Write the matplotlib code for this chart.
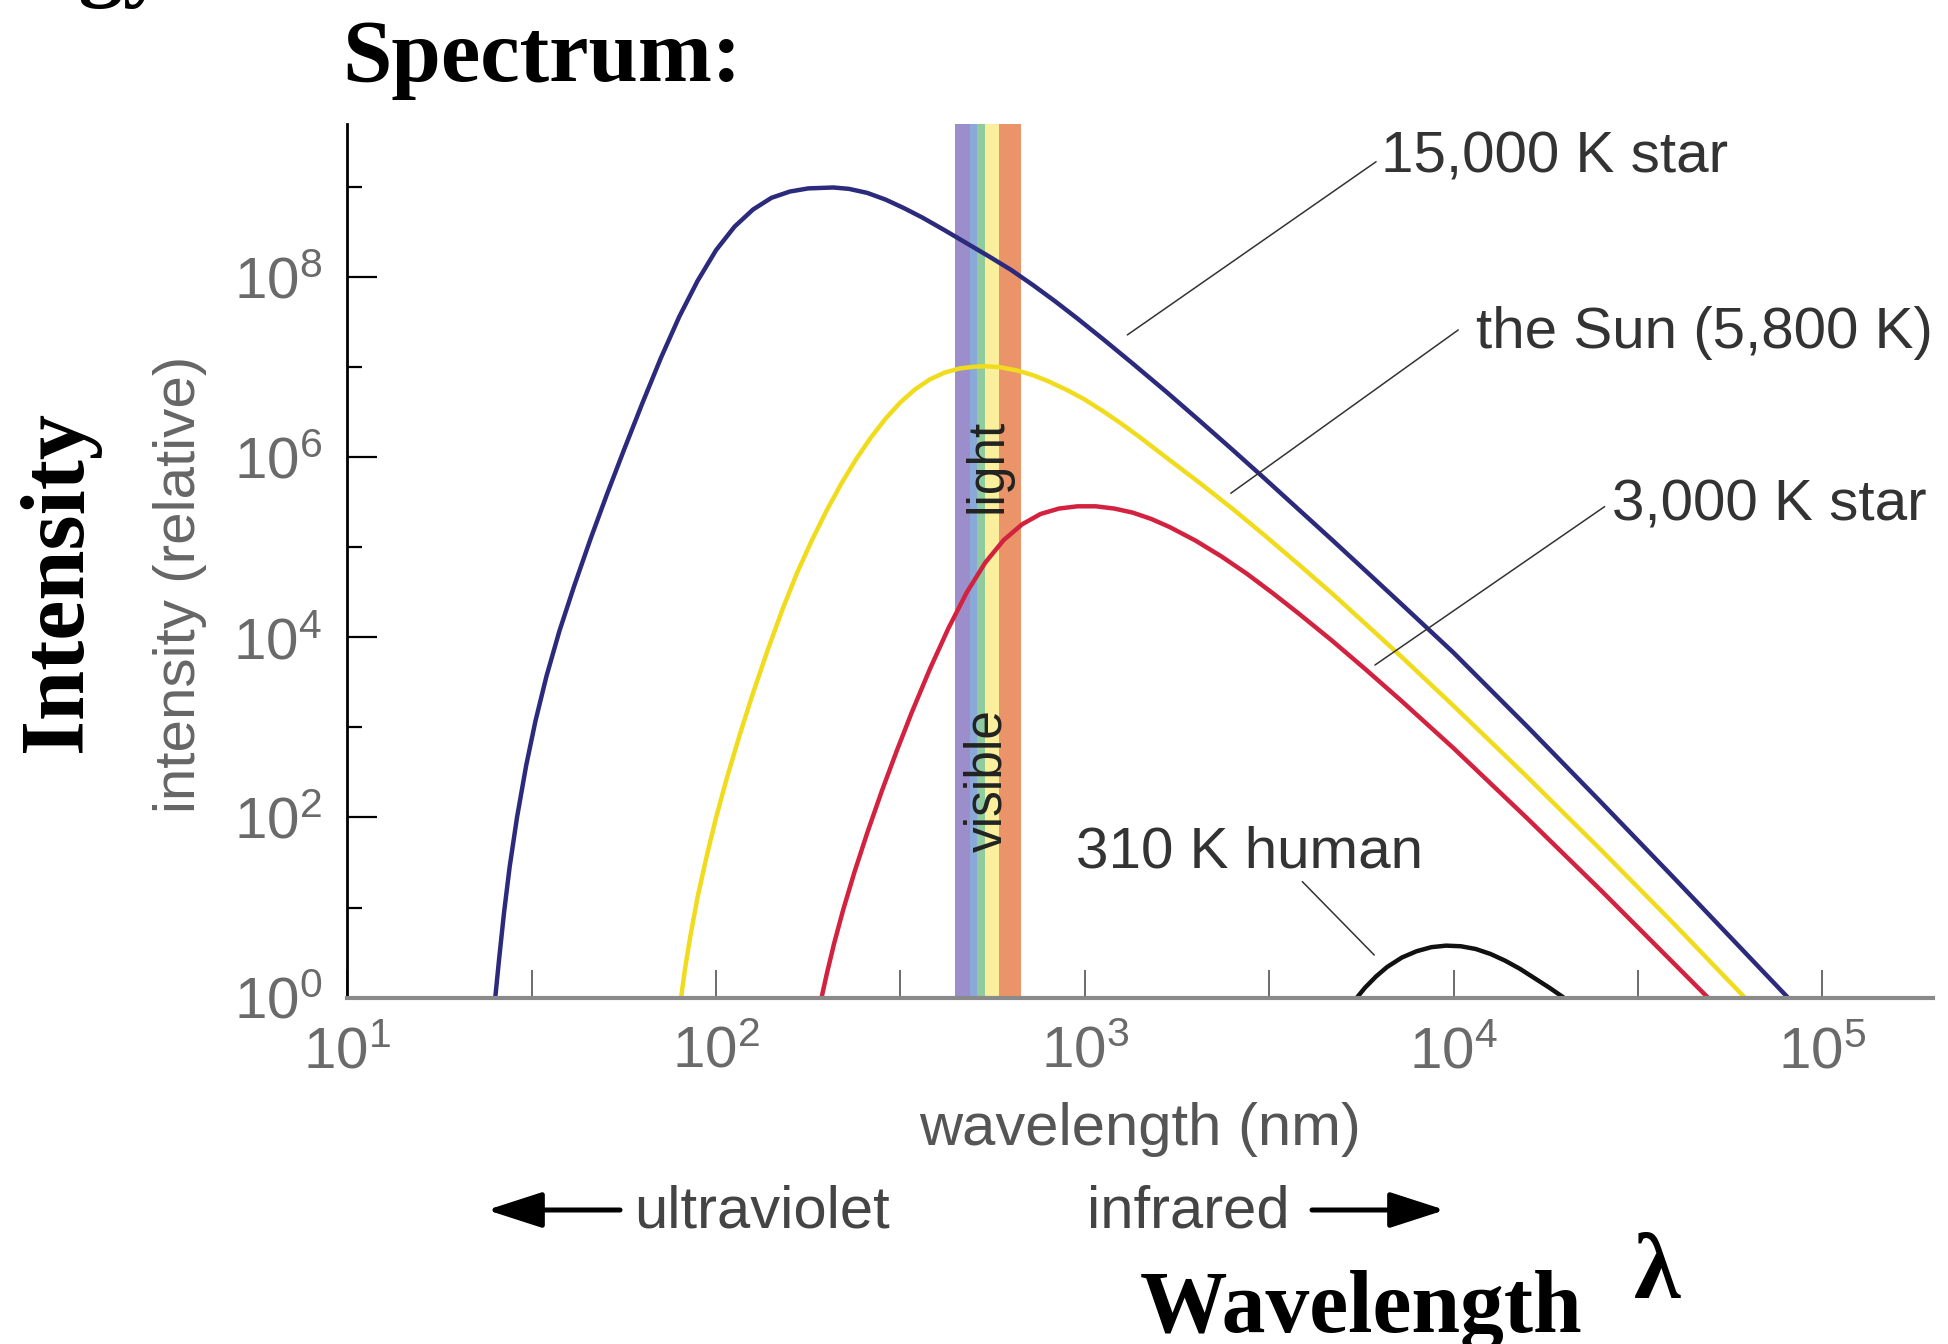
import numpy as np
import matplotlib.pyplot as plt
from matplotlib.patches import FancyArrowPatch

# curves, stored as log10 values
# (wavelength in nm, relative intensity)
hot_lognm = [1.401, 1.412, 1.425, 1.44, 1.46, 1.485, 1.51, 1.54, 1.575, 1.615, 1.66,
             1.705, 1.75, 1.80, 1.85, 1.90, 1.95, 2.00, 2.05, 2.10, 2.15, 2.20, 2.25,
             2.318, 2.36, 2.41, 2.46, 2.51, 2.56, 2.62, 2.68, 2.74, 2.80, 2.86, 2.92,
             2.98, 3.05, 3.13, 3.22, 3.31, 3.40, 3.49, 3.58, 3.67, 3.76, 3.86, 4.00,
             4.20, 4.40, 4.60, 4.80, 4.907]
hot_logI = [0, 0.45, 0.95, 1.45, 2.0, 2.58, 3.07, 3.57, 4.07, 4.57, 5.1, 5.6, 6.08,
            6.6, 7.1, 7.56, 7.96, 8.3, 8.56, 8.75, 8.88, 8.95, 8.985, 8.995, 8.98,
            8.935, 8.86, 8.765, 8.66, 8.52, 8.375, 8.23, 8.08, 7.91, 7.73, 7.54, 7.31,
            7.04, 6.73, 6.41, 6.085, 5.755, 5.42, 5.085, 4.745, 4.365, 3.83, 3.01,
            2.17, 1.32, 0.46, 0]

sun_lognm = [1.905, 1.915, 1.93, 1.95, 1.975, 2.00, 2.03, 2.065, 2.10, 2.14, 2.18,
             2.22, 2.26, 2.30, 2.34, 2.38, 2.42, 2.46, 2.50, 2.54, 2.58, 2.62, 2.66,
             2.70, 2.73, 2.77, 2.82, 2.86, 2.90, 2.95, 3.00, 3.05, 3.10, 3.15, 3.22,
             3.31, 3.40, 3.49, 3.58, 3.67, 3.76, 3.86, 4.00, 4.20, 4.40, 4.60, 4.79]
sun_logI = [0, 0.3, 0.68, 1.12, 1.58, 2.0, 2.45, 2.93, 3.38, 3.86, 4.31, 4.72, 5.08,
            5.41, 5.71, 5.98, 6.22, 6.43, 6.61, 6.755, 6.865, 6.94, 6.985, 7.005,
            7.01, 7.0, 6.96, 6.91, 6.845, 6.75, 6.64, 6.51, 6.37, 6.22, 6.0, 5.72,
            5.43, 5.125, 4.81, 4.49, 4.155, 3.78, 3.24, 2.45, 1.64, 0.81, 0]

cool_lognm = [2.286, 2.30, 2.32, 2.345, 2.375, 2.41, 2.45, 2.49, 2.53, 2.58, 2.63,
              2.68, 2.73, 2.78, 2.83, 2.88, 2.93, 2.98, 3.03, 3.08, 3.13, 3.18, 3.23,
              3.30, 3.37, 3.44, 3.51, 3.58, 3.67, 3.76, 3.86, 4.00, 4.20, 4.40, 4.60,
              4.69]
cool_logI = [0, 0.26, 0.6, 0.98, 1.39, 1.83, 2.3, 2.74, 3.16, 3.65, 4.1, 4.5, 4.83,
             5.08, 5.255, 5.37, 5.43, 5.455, 5.455, 5.43, 5.385, 5.315, 5.225, 5.075,
             4.9, 4.705, 4.49, 4.265, 3.965, 3.65, 3.29, 2.77, 1.99, 1.19, 0.37, 0]

human_lognm = [3.738, 3.76, 3.79, 3.82, 3.86, 3.90, 3.94, 3.98, 4.02, 4.06, 4.10, 4.14,
               4.18, 4.22, 4.26, 4.299]
human_logI = [0, 0.11, 0.235, 0.34, 0.445, 0.515, 0.56, 0.577, 0.57, 0.54, 0.485,
              0.41, 0.32, 0.215, 0.11, 0]

# visible band stripes (nm edges) and colours
band_edges = [445, 489, 510, 537, 586, 672]
band_colors = ['#9c8ecb', '#8aa9d8', '#8fcb9c', '#f9ef9d', '#eb9469']

x_ticks = [1e1, 1e2, 1e3, 1e4, 1e5]
x_labels = [r'$\mathregular{10^{1}}$', r'$\mathregular{10^{2}}$', r'$\mathregular{10^{3}}$',
            r'$\mathregular{10^{4}}$', r'$\mathregular{10^{5}}$']
x_minor = [10**1.5, 10**2.5, 10**3.5, 10**4.5]
y_ticks = [1e0, 1e2, 1e4, 1e6, 1e8]
y_labels = [r'$\mathregular{10^{0}}$', r'$\mathregular{10^{2}}$', r'$\mathregular{10^{4}}$',
            r'$\mathregular{10^{6}}$', r'$\mathregular{10^{8}}$']
y_minor = [1e1, 1e3, 1e5, 1e7, 1e9]

plt.rcParams['font.family'] = ['Liberation Sans', 'DejaVu Sans']
plt.rcParams['mathtext.fontset'] = 'custom'
plt.rcParams['mathtext.rm'] = 'Liberation Sans'

W, H = 1948, 1344
fig = plt.figure(figsize=(W / 100, H / 100), dpi=100)

def fx(px):
    return px / W

def fy(py):
    return 1 - py / H

ax = fig.add_axes([fx(347.4), fy(997.6), (1933 - 347.4) / W, (997.6 - 124) / H])
ax.set_xscale('log')
ax.set_yscale('log')
ax.set_xlim(10, 10**5.3005)
ax.set_ylim(1, 10**9.70)

for i, c in enumerate(band_colors):
    ax.axvspan(band_edges[i], band_edges[i + 1], color=c, lw=0, zorder=1)

curves = [(hot_lognm, hot_logI, '#2c2a7c'),
          (sun_lognm, sun_logI, '#f0dc1c'),
          (cool_lognm, cool_logI, '#d3223f'),
          (human_lognm, human_logI, '#111111')]
for lx, ly, c in curves:
    ax.plot(np.power(10.0, lx), np.power(10.0, ly), color=c, lw=3.2, zorder=3,
            solid_joinstyle='round', solid_capstyle='butt', clip_on=False)

for s in ['top', 'right']:
    ax.spines[s].set_visible(False)
ax.spines['left'].set_color('black')
ax.spines['left'].set_linewidth(2.0)
ax.spines['bottom'].set_color('#8a8a8a')
ax.spines['bottom'].set_linewidth(3.0)
ax.spines['bottom'].set_zorder(4)

ax.set_xticks(x_ticks, x_labels)
ax.set_xticks(x_minor, [''] * len(x_minor), minor=True)
ax.set_yticks(y_ticks, y_labels)
ax.set_yticks(y_minor, [''] * len(y_minor), minor=True)
ax.tick_params(axis='x', which='both', direction='in', length=20, width=1.1,
               color='#444444', pad=20, labelsize=42, labelcolor='#6a6a6a')
ax.tick_params(axis='y', which='major', direction='in', length=21.6, width=1.6,
               color='black', pad=18, labelsize=42, labelcolor='#6a6a6a')
ax.tick_params(axis='y', which='minor', direction='in', length=10.8, width=1.6,
               color='black')

# band labels
ax.text(546, 8.0e5, 'light', rotation=90, ha='center', va='center', fontsize=37,
        color='#222222', zorder=2)
ax.text(546, 260, 'visible', rotation=90, ha='center', va='center', fontsize=37,
        color='#222222', zorder=2)

# curve labels with leader lines
lead = dict(arrowstyle='-', color='#333333', lw=1.1, shrinkA=0, shrinkB=0)
ax.annotate('', xy=(1304, 2.28e7), xytext=(6166, 1.91e9), arrowprops=lead)
ax.annotate('', xy=(2489, 3.98e5), xytext=(10300, 2.59e7), arrowprops=lead)
ax.annotate('', xy=(6124, 4.93e3), xytext=(25700, 2.83e5), arrowprops=lead)
ax.annotate('', xy=(6095, 2.97), xytext=(3890, 19.4), arrowprops=lead)

lab = dict(fontsize=42, color='#333333', va='baseline', ha='left')
fig.text(fx(1381), fy(173), '15,000 K star', **lab)
fig.text(fx(1476), fy(348), 'the Sun (5,800 K)', **lab)
fig.text(fx(1612), fy(520), '3,000 K star', **lab)
fig.text(fx(1076), fy(868), '310 K human', **lab)

# axis titles
fig.text(fx(180), fy(584), 'intensity (relative)', rotation=90, ha='center',
         va='center', fontsize=42, color='#666666')
fig.text(fx(1140), fy(1145), 'wavelength (nm)', ha='center', va='baseline',
         fontsize=43, color='#555555')
fig.text(fx(634), fy(1227), 'ultraviolet', ha='left', va='baseline', fontsize=43,
         color='#444444')
fig.text(fx(1087), fy(1227), 'infrared', ha='left', va='baseline', fontsize=43,
         color='#444444')
arr = dict(arrowstyle='-|>,head_length=1.7,head_width=0.55', mutation_scale=20,
           lw=3.6, color='black', shrinkA=0, shrinkB=0)
fig.add_artist(FancyArrowPatch((fx(620), fy(1210)), (fx(487), fy(1210)),
                               transform=fig.transFigure, **arr))
fig.add_artist(FancyArrowPatch((fx(1312), fy(1210)), (fx(1445), fy(1210)),
                               transform=fig.transFigure, **arr))

# slide text around the chart
serif = dict(family=['Liberation Serif', 'DejaVu Serif'], fontweight='bold', color='black')
fig.text(fx(168), fy(-10), 'Energy', ha='right', va='baseline', fontsize=64, **serif)
fig.text(fx(342), fy(81), 'Spectrum:', ha='left', va='baseline', fontsize=64, **serif)
fig.text(fx(59), fy(581), 'Intensity', rotation=90, ha='center', va='center',
         fontsize=65, **serif)
fig.text(fx(1140), fy(1332), 'Wavelength', ha='left', va='baseline', fontsize=63, **serif)
fig.text(fx(1634), fy(1298), 'λ', ha='left', va='baseline', fontsize=68, **serif)

fig.savefig('out.png', dpi=100, facecolor='white')
